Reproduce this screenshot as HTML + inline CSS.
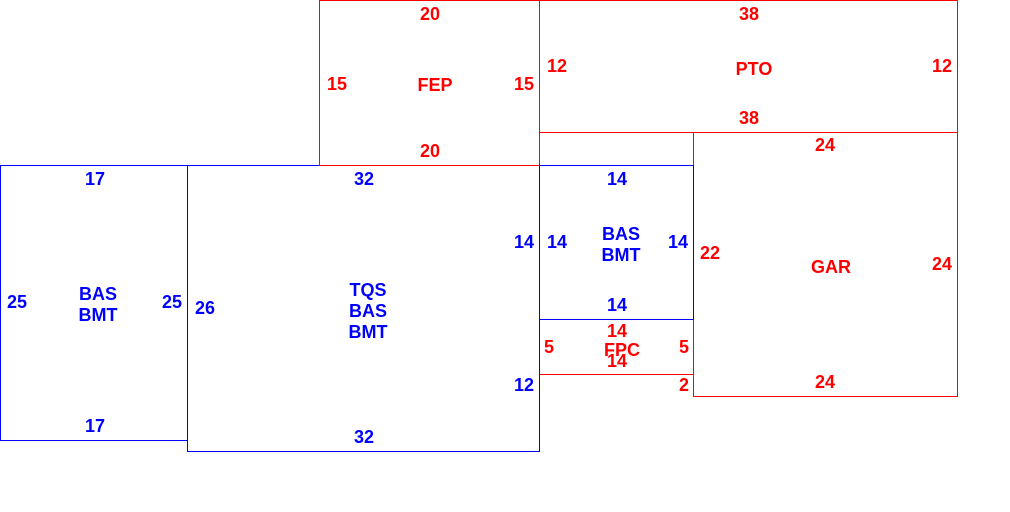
<!DOCTYPE html>
<html><head><style>body{margin:0;background:#fff}svg{display:block}text{font-family:"Liberation Sans",sans-serif;font-weight:bold;font-size:18px;text-anchor:middle}</style></head><body>
<svg width="1010" height="512" xmlns="http://www.w3.org/2000/svg">
<g fill="none" stroke-width="1.3" shape-rendering="crispEdges">
<rect x="187.5" y="165.5" width="352" height="286" stroke="#00f"/>
<rect x="319.5" y="0.5" width="220" height="165" stroke="#f00"/>
<rect x="539.5" y="0.5" width="418" height="132" stroke="#f00"/>
<rect x="693.5" y="132.5" width="264" height="264" stroke="#f00"/>
<rect x="539.5" y="319.5" width="154" height="55" stroke="#f00"/>
<rect x="0.5" y="165.5" width="187" height="275" stroke="#00f"/>
<rect x="539.5" y="165.5" width="154" height="154" stroke="#00f"/>
<line x1="539.5" y1="165" x2="539.5" y2="452" stroke="#00f"/>
</g>
<g fill="#f00">
<text x="430" y="20">20</text><text x="337" y="90">15</text><text x="435" y="91">FEP</text><text x="524" y="90">15</text><text x="430" y="157">20</text>
<text x="749" y="20">38</text><text x="557" y="72">12</text><text x="754" y="75">PTO</text><text x="942" y="72">12</text><text x="749" y="124">38</text>
<text x="825" y="151">24</text><text x="710" y="259">22</text><text x="831" y="273">GAR</text><text x="942" y="270">24</text><text x="825" y="388">24</text>
<text x="617" y="337">14</text><text x="549" y="353">5</text><text x="622" y="356">FPC</text><text x="684" y="353">5</text><text x="617" y="367">14</text><text x="684" y="391">2</text>
</g>
<g fill="#00f">
<text x="95" y="185">17</text><text x="17" y="308">25</text><text x="98" y="300">BAS</text><text x="98" y="321">BMT</text><text x="172" y="308">25</text><text x="95" y="432">17</text>
<text x="364" y="185">32</text><text x="205" y="314">26</text><text x="368" y="296">TQS</text><text x="368" y="317">BAS</text><text x="368" y="338">BMT</text><text x="524" y="248">14</text><text x="524" y="391">12</text><text x="364" y="443">32</text>
<text x="617" y="185">14</text><text x="557" y="248">14</text><text x="621" y="240">BAS</text><text x="621" y="261">BMT</text><text x="678" y="248">14</text><text x="617" y="311">14</text>
</g>
</svg>
</body></html>
